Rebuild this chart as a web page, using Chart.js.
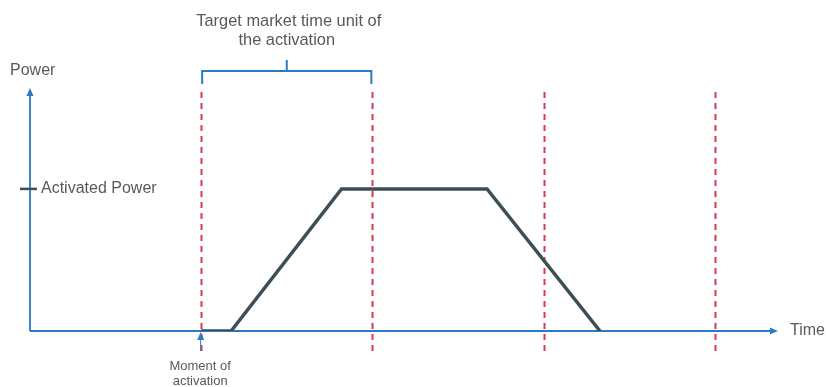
<!DOCTYPE html>
<html>
<head>
<meta charset="utf-8">
<script src="https://cdn.jsdelivr.net/npm/chart.js@4.4.0/dist/chart.umd.min.js"></script>
<style>
  html, body { margin: 0; padding: 0; background: #fff; }
  #wrap { width: 826px; height: 387px; }
</style>
</head>
<body>
<div id="wrap"><canvas id="graphCanvas" width="826" height="387"></canvas></div>
<script>
// time in market time units, power relative to the activated power
var tiempos = [1.0, 1.175, 1.82, 2.67, 3.33];
var potencias = [0, 0, 1, 1, 0];
var limitesMTU = [1, 2, 3, 4];
var nivelActivado = 1;
var xMax = 4.37;
var yMax = 1.71;

var azul = '#2a7bc4';
var rojo = '#d83a52';
var gris = '#58595b';

var puntos = [];
for (var i = 0; i < tiempos.length; i++) {
    puntos.push({x: tiempos[i], y: potencias[i]});
}

function flecha(ctx, x, y, dir) {
    // dir: 'up' or 'right', (x,y) is the tip
    ctx.beginPath();
    if (dir == 'up') {
        ctx.moveTo(x, y);
        ctx.lineTo(x - 3.5, y + 8);
        ctx.lineTo(x + 3.5, y + 8);
    } else {
        ctx.moveTo(x, y);
        ctx.lineTo(x - 8, y - 3.5);
        ctx.lineTo(x - 8, y + 3.5);
    }
    ctx.closePath();
    ctx.fill();
}

var dibujoFondo = {
    id: 'dibujoFondo',
    beforeDatasetsDraw: function (chart) {
        var ctx = chart.ctx;
        var sx = chart.scales.x, sy = chart.scales.y;
        var x0 = sx.getPixelForValue(0), y0 = sy.getPixelForValue(0);
        var yTop = sy.getPixelForValue(yMax);
        var xEnd = sx.getPixelForValue(xMax);
        ctx.save();

        // dashed market time unit borders
        ctx.strokeStyle = rojo;
        ctx.lineWidth = 2;
        ctx.setLineDash([6, 5]);
        for (var i = 0; i < limitesMTU.length; i++) {
            var xp = Math.round(sx.getPixelForValue(limitesMTU[i])) + 0.5;
            ctx.beginPath();
            ctx.moveTo(xp, yTop + 4);
            ctx.lineTo(xp, y0 + 22);
            ctx.stroke();
        }
        ctx.setLineDash([]);

        // axes
        ctx.strokeStyle = azul;
        ctx.fillStyle = azul;
        ctx.lineWidth = 1.8;
        ctx.beginPath();
        ctx.moveTo(x0, y0);
        ctx.lineTo(x0, yTop + 4);
        ctx.moveTo(x0, y0);
        ctx.lineTo(xEnd - 4, y0);
        ctx.stroke();
        flecha(ctx, x0, yTop, 'up');
        flecha(ctx, xEnd, y0, 'right');

        // bracket over the first MTU
        var b1 = sx.getPixelForValue(limitesMTU[0]);
        var b2 = sx.getPixelForValue(limitesMTU[1]);
        var bm = (b1 + b2) / 2;
        ctx.lineWidth = 2;
        ctx.beginPath();
        ctx.moveTo(b1 + 1, 84);
        ctx.lineTo(b1 + 1, 71);
        ctx.lineTo(b2 - 1, 71);
        ctx.lineTo(b2 - 1, 84);
        ctx.moveTo(bm, 71);
        ctx.lineTo(bm, 60);
        ctx.stroke();

        // moment of activation arrow
        ctx.lineWidth = 1;
        var xa = b1 - 0.5;
        ctx.beginPath();
        ctx.moveTo(xa, y0 + 20);
        ctx.lineTo(xa, y0 + 6);
        ctx.stroke();
        flecha(ctx, xa, y0 + 1, 'up');

        // activated power tick
        var yAct = sy.getPixelForValue(nivelActivado);
        ctx.strokeStyle = '#3e4e57';
        ctx.lineWidth = 2.5;
        ctx.beginPath();
        ctx.moveTo(x0 - 10, yAct);
        ctx.lineTo(x0 + 7, yAct);
        ctx.stroke();

        // texts
        ctx.fillStyle = gris;
        ctx.textBaseline = 'middle';
        ctx.font = '16px "Liberation Sans", Arial, sans-serif';
        ctx.textAlign = 'left';
        ctx.fillText('Power', 10, 71);
        ctx.fillText('Activated Power', 41, yAct);
        ctx.fillText('Time', 790, y0);
        ctx.textAlign = 'center';
        ctx.font = '16.4px "Liberation Sans", Arial, sans-serif';
        ctx.fillText('Target market time unit of', bm + 2, 21);
        ctx.fillText('the activation', bm, 40);
        ctx.font = '13px "Liberation Sans", Arial, sans-serif';
        ctx.fillText('Moment of', b1 - 1, 366);
        ctx.fillText('activation', b1 - 1, 381);
        ctx.restore();
    }
};

new Chart(document.getElementById('graphCanvas'), {
    type: 'line',
    data: {
        datasets: [{
            label: 'Power',
            data: puntos,
            borderColor: '#3e4e57',
            borderWidth: 3.5,
            pointRadius: 0,
            tension: 0,
            fill: false
        }]
    },
    options: {
        responsive: false,
        animation: false,
        layout: { padding: { left: 30, right: 48, top: 88, bottom: 56 } },
        plugins: { legend: { display: false }, tooltip: { enabled: false } },
        scales: {
            x: { type: 'linear', min: 0, max: xMax, display: false },
            y: { type: 'linear', min: 0, max: yMax, display: false }
        }
    },
    plugins: [dibujoFondo]
});
</script>
</body>
</html>
